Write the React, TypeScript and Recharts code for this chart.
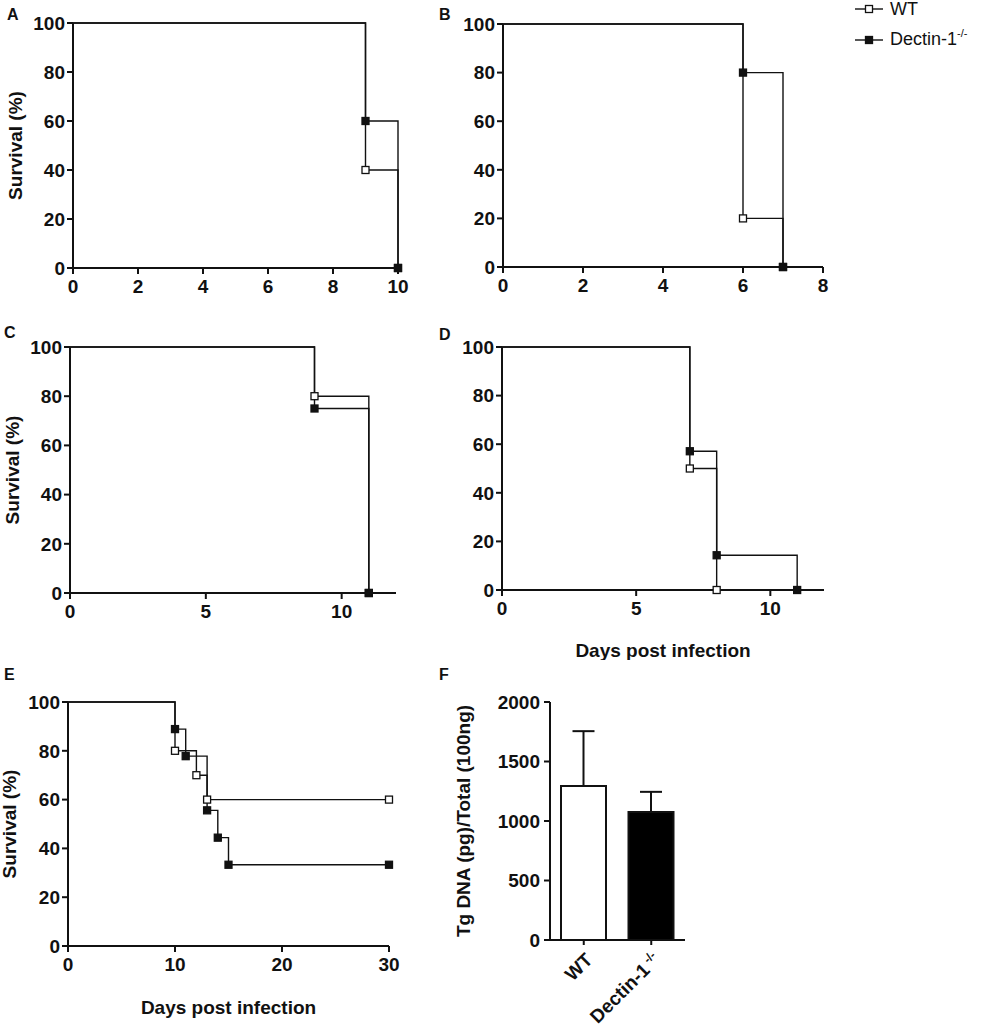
import React from "react";
import { LineChart, Line, XAxis, YAxis, BarChart, Bar, Cell, ErrorBar } from "recharts";

type Pt = { day: number; surv: number };

// survival curves (day, % surviving), first point is the start of the curve
const panelAWt: Pt[] = [{ day: 0, surv: 100 }, { day: 9, surv: 40 }, { day: 10, surv: 0 }];
const panelAKo: Pt[] = [{ day: 0, surv: 100 }, { day: 9, surv: 60 }, { day: 10, surv: 0 }];

const panelBWt: Pt[] = [{ day: 0, surv: 100 }, { day: 6, surv: 20 }, { day: 7, surv: 0 }];
const panelBKo: Pt[] = [{ day: 0, surv: 100 }, { day: 6, surv: 80 }, { day: 7, surv: 0 }];

const panelCWt: Pt[] = [{ day: 0, surv: 100 }, { day: 9, surv: 80 }, { day: 11, surv: 0 }];
const panelCKo: Pt[] = [{ day: 0, surv: 100 }, { day: 9, surv: 75 }, { day: 11, surv: 0 }];

const panelDWt: Pt[] = [{ day: 0, surv: 100 }, { day: 7, surv: 50 }, { day: 8, surv: 0 }];
const panelDKo: Pt[] = [
  { day: 0, surv: 100 },
  { day: 7, surv: 57.1 },
  { day: 8, surv: 14.3 },
  { day: 11, surv: 0 },
];

const panelEWt: Pt[] = [
  { day: 0, surv: 100 },
  { day: 10, surv: 80 },
  { day: 12, surv: 70 },
  { day: 13, surv: 60 },
  { day: 30, surv: 60 },
];
const panelEKo: Pt[] = [
  { day: 0, surv: 100 },
  { day: 10, surv: 88.9 },
  { day: 11, surv: 77.8 },
  { day: 13, surv: 55.6 },
  { day: 14, surv: 44.4 },
  { day: 15, surv: 33.3 },
  { day: 30, surv: 33.3 },
];

const survivalTicks = [0, 20, 40, 60, 80, 100];
const ticksA = [0, 2, 4, 6, 8, 10];
const ticksB = [0, 2, 4, 6, 8];
const ticksCD = [0, 5, 10];
const ticksE = [0, 10, 20, 30];

// panel F
const fGroups = ["WT", "Dectin-1"];
const fMeans = [1294, 1075];
const fErrors = [461, 170];
const fTicks = [0, 500, 1000, 1500, 2000];
const fFills = ["#ffffff", "#000000"];

const fData = fGroups.map((g, i) => ({ group: g, mean: fMeans[i], err: [0, fErrors[i]] }));

const font = "'Liberation Sans', Arial, Helvetica, sans-serif";
const ink = "#111";
const tickStyle = { fontSize: 19, fontWeight: 700, fill: ink, fontFamily: font };
const labelStyle = { fontSize: 19, fontWeight: 700, fill: ink, fontFamily: font, textAnchor: "middle" as const };
const axisLine = { stroke: ink, strokeWidth: 2 };

const makeDot = (filled: boolean) => (props: any) => {
  const { cx, cy, index } = props;
  if (index === 0 || cx == null || cy == null) return <g key={`d-${index}`} />;
  return (
    <rect
      key={`d-${index}`}
      x={cx - 3.5}
      y={cy - 3.5}
      width={7}
      height={7}
      fill={filled ? ink : "#fff"}
      stroke={ink}
      strokeWidth={1.3}
    />
  );
};

const openDot = makeDot(false);
const filledDot = makeDot(true);

interface PanelProps {
  left: number;
  top: number;
  width: number;
  height: number;
  marginTop: number;
  marginRight: number;
  yAxisWidth: number;
  xAxisHeight: number;
  xDomain: [number, number];
  xTicks: number[];
  wt: Pt[];
  ko: Pt[];
  yLabelOffset?: number;
  xLabel?: boolean;
  xLabelOffset?: number;
}

const SurvivalPanel: React.FC<PanelProps> = (p) => (
  <div style={{ position: "absolute", left: p.left, top: p.top }}>
    <LineChart
      width={p.width}
      height={p.height}
      margin={{ top: p.marginTop, right: p.marginRight, bottom: 0, left: 0 }}
    >
      <XAxis
        type="number"
        dataKey="day"
        domain={p.xDomain}
        ticks={p.xTicks}
        interval={0}
        allowDuplicatedCategory={false}
        axisLine={axisLine}
        tickLine={axisLine}
        tickSize={6}
        tickMargin={6}
        tick={tickStyle}
        height={p.xAxisHeight}
        label={
          p.xLabel
            ? { value: "Days post infection", position: "insideBottom", offset: p.xLabelOffset ?? 3, style: labelStyle }
            : undefined
        }
      />
      <YAxis
        type="number"
        domain={[0, 100]}
        ticks={survivalTicks}
        interval={0}
        width={p.yAxisWidth}
        axisLine={axisLine}
        tickLine={axisLine}
        tickSize={6}
        tickMargin={2}
        tick={tickStyle}
        label={
          p.yLabelOffset !== undefined
            ? { value: "Survival (%)", angle: -90, position: "insideLeft", offset: p.yLabelOffset, style: labelStyle }
            : undefined
        }
      />
      <Line
        data={p.wt}
        dataKey="surv"
        type="stepAfter"
        stroke={ink}
        strokeWidth={1.4}
        dot={openDot}
        activeDot={false}
        isAnimationActive={false}
      />
      <Line
        data={p.ko}
        dataKey="surv"
        type="stepAfter"
        stroke={ink}
        strokeWidth={1.4}
        dot={filledDot}
        activeDot={false}
        isAnimationActive={false}
      />
    </LineChart>
  </div>
);

const GroupTick = (props: any) => {
  const { x, y, payload } = props;
  const isKo = payload.value === "Dectin-1";
  return (
    <g transform={`translate(${x + 10},${y + 14})`}>
      <text textAnchor="end" transform="rotate(-45)" fontSize={19} fontWeight={700} fontFamily={font} fill={ink}>
        {payload.value}
        {isKo ? (
          <tspan dy={-7} fontSize={12}>
            {" -/-"}
          </tspan>
        ) : null}
      </text>
    </g>
  );
};

const PanelLetter: React.FC<{ x: number; y: number; text: string }> = ({ x, y, text }) => (
  <div
    style={{
      position: "absolute",
      left: x,
      top: y,
      fontFamily: font,
      fontWeight: 700,
      fontSize: 16,
      lineHeight: 1,
      color: ink,
    }}
  >
    {text}
  </div>
);

const LegendRow: React.FC<{ filled: boolean; children: React.ReactNode }> = ({ filled, children }) => (
  <div style={{ display: "flex", alignItems: "center", height: 18, marginBottom: 13 }}>
    <svg width={28} height={16} style={{ marginRight: 7 }}>
      <line x1={0} y1={8} x2={28} y2={8} stroke={ink} strokeWidth={1.4} />
      <rect x={10.5} y={4.5} width={7} height={7} fill={filled ? ink : "#fff"} stroke={ink} strokeWidth={1.3} />
    </svg>
    <span style={{ fontFamily: font, fontSize: 18, lineHeight: "18px", color: ink, whiteSpace: "nowrap" }}>
      {children}
    </span>
  </div>
);

export default function App() {
  return (
    <div style={{ position: "absolute", left: 0, top: 0, width: 987, height: 1031, background: "#fff" }}>
      <PanelLetter x={7} y={7} text="A" />
      <PanelLetter x={439} y={7} text="B" />
      <PanelLetter x={4} y={325} text="C" />
      <PanelLetter x={439} y={327} text="D" />
      <PanelLetter x={4} y={667} text="E" />
      <PanelLetter x={439} y={667} text="F" />

      <div style={{ position: "absolute", left: 855, top: 0 }}>
        <LegendRow filled={false}>WT</LegendRow>
        <LegendRow filled={true}>
          Dectin-1<span style={{ fontSize: 11, position: "relative", top: -8 }}>-/-</span>
        </LegendRow>
      </div>

      <SurvivalPanel
        left={0}
        top={0}
        width={420}
        height={298}
        marginTop={23}
        marginRight={22}
        yAxisWidth={73}
        xAxisHeight={30}
        xDomain={[0, 10]}
        xTicks={ticksA}
        wt={panelAWt}
        ko={panelAKo}
        yLabelOffset={15}
      />
      <SurvivalPanel
        left={430}
        top={0}
        width={420}
        height={297}
        marginTop={24}
        marginRight={27}
        yAxisWidth={73}
        xAxisHeight={30}
        xDomain={[0, 8]}
        xTicks={ticksB}
        wt={panelBWt}
        ko={panelBKo}
      />
      <SurvivalPanel
        left={0}
        top={310}
        width={420}
        height={313}
        marginTop={37}
        marginRight={24}
        yAxisWidth={70}
        xAxisHeight={30}
        xDomain={[0, 12]}
        xTicks={ticksCD}
        wt={panelCWt}
        ko={panelCKo}
        yLabelOffset={12}
      />
      <SurvivalPanel
        left={430}
        top={310}
        width={420}
        height={350}
        marginTop={37}
        marginRight={26}
        yAxisWidth={72}
        xAxisHeight={70}
        xDomain={[0, 12]}
        xTicks={ticksCD}
        wt={panelDWt}
        ko={panelDKo}
        xLabel
        xLabelOffset={3}
      />
      <SurvivalPanel
        left={0}
        top={640}
        width={420}
        height={388}
        marginTop={62}
        marginRight={31}
        yAxisWidth={68}
        xAxisHeight={82}
        xDomain={[0, 30]}
        xTicks={ticksE}
        wt={panelEWt}
        ko={panelEKo}
        yLabelOffset={9}
        xLabel
        xLabelOffset={14}
      />

      <div style={{ position: "absolute", left: 440, top: 650 }}>
        <BarChart width={260} height={381} data={fData} margin={{ top: 52, right: 15, bottom: 0, left: 0 }}>
          <XAxis
            dataKey="group"
            type="category"
            interval={0}
            axisLine={axisLine}
            tickLine={axisLine}
            tickSize={5}
            tickMargin={2}
            tick={<GroupTick />}
            height={91}
          />
          <YAxis
            type="number"
            domain={[0, 2000]}
            ticks={fTicks}
            interval={0}
            width={110}
            axisLine={axisLine}
            tickLine={axisLine}
            tickSize={6}
            tickMargin={4}
            tick={tickStyle}
            label={{
              value: "Tg DNA (pg)/Total (100ng)",
              angle: -90,
              position: "insideLeft",
              offset: 23,
              style: labelStyle,
            }}
          />
          <Bar dataKey="mean" barSize={45} stroke={ink} strokeWidth={2} isAnimationActive={false}>
            {fData.map((d, i) => (
              <Cell key={d.group} fill={fFills[i]} />
            ))}
            <ErrorBar dataKey="err" width={11} stroke={ink} strokeWidth={2} direction="y" />
          </Bar>
        </BarChart>
      </div>
    </div>
  );
}
